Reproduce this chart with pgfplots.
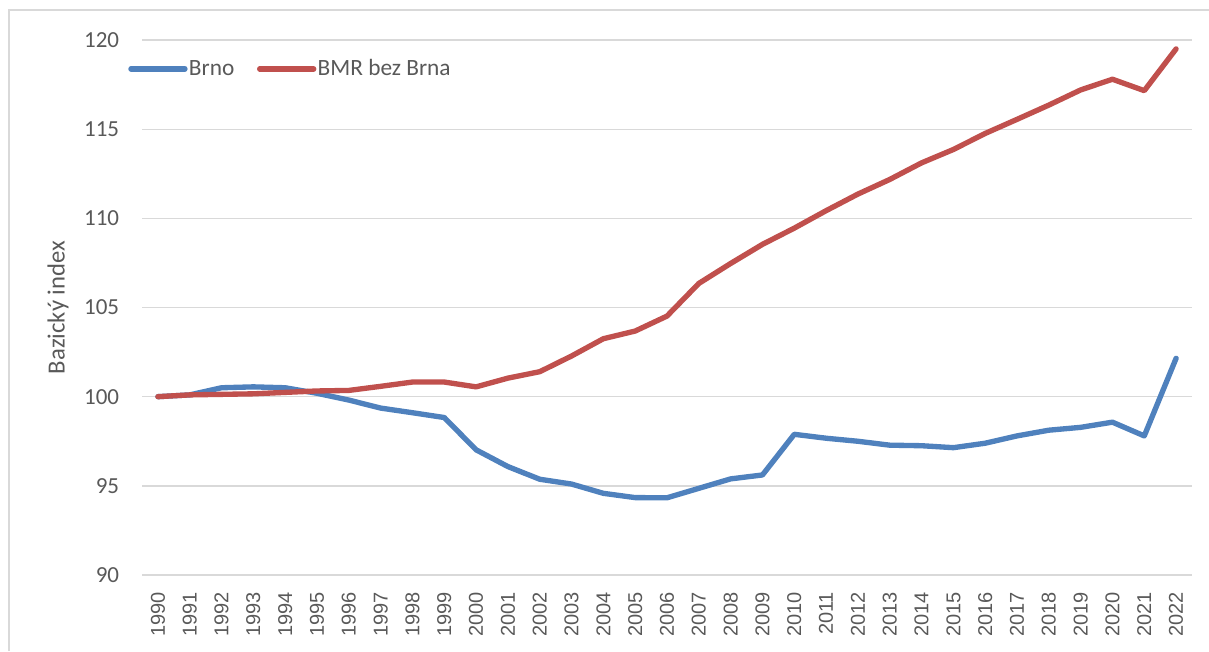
\documentclass[border=0pt]{standalone}
\usepackage{pgfplots}
\pgfplotsset{compat=1.18}
\usepackage{fontspec}
\setmainfont{Carlito}
\newfontfamily\arialfont{Liberation Sans}
\definecolor{cblue}{HTML}{4F81BD}
\definecolor{cred}{HTML}{C0504D}
\definecolor{cgrid}{HTML}{D9D9D9}
\definecolor{ctext}{HTML}{595959}
\pgfplotsset{legend image code/.code={\draw[#1] (0pt,0pt) -- (40.5pt,0pt);}}
\begin{document}
\begin{tikzpicture}
\useasboundingbox (0,0) rectangle (906.75pt,488.25pt);
\draw[cgrid, line width=1pt] (6.75pt,0pt) -- (6.75pt,480.75pt) -- (906.75pt,480.75pt);
\begin{axis}[
  at={(106.5pt,57pt)}, anchor=south west,
  scale only axis, width=787.5pt, height=401.25pt,
  xmin=1989.5, xmax=2022.5, ymin=90, ymax=120,
  xtick={1990,1991,...,2022}, ytick={90,95,...,120},
  /pgf/number format/1000 sep={},
  /pgf/number format/assume math mode=true,
  axis line style={draw=none}, major tick length=0pt,
  ymajorgrids, grid style={cgrid, line width=1pt},
  xticklabel style={font=\arialfont\fontsize{15}{15}\selectfont, text=ctext, rotate=90, anchor=east, inner sep=0pt},
  xticklabel shift=12.5pt,
  yticklabel style={font=\fontsize{17.25}{17}\selectfont, text=ctext, anchor=east, inner sep=0pt},
  yticklabel shift=17pt,
  ylabel={Bazický index},
  every axis y label/.style={at={(axis description cs:-0.08,0.5)}, rotate=90, anchor=center, font=\fontsize{18.5}{18}\selectfont, text=ctext},
  legend columns=2,
  legend style={at={(axis description cs:-0.0133,0.946)}, anchor=west, draw=none, fill=none, inner sep=0pt,
    font=\fontsize{17.5}{17}\selectfont, text=ctext,
    nodes={inner sep=1pt}, /tikz/every even column/.append style={column sep=16pt}},
  clip=false,
]
\addplot[cblue, line width=4pt, line cap=round, line join=round] coordinates {
(1990,100) (1991,100.1) (1992,100.5) (1993,100.55) (1994,100.5) (1995,100.19) (1996,99.81) (1997,99.36) (1998,99.1) (1999,98.83)
(2000,97.02) (2001,96.08) (2002,95.37) (2003,95.1) (2004,94.58) (2005,94.34) (2006,94.33) (2007,94.86) (2008,95.39) (2009,95.61)
(2010,97.89) (2011,97.67) (2012,97.5) (2013,97.28) (2014,97.25) (2015,97.14) (2016,97.39) (2017,97.8) (2018,98.12) (2019,98.28)
(2020,98.57) (2021,97.8) (2022,102.15)
};
\addlegendentry{Brno}
\addplot[cred, line width=4pt, line cap=round, line join=round] coordinates {
(1990,100) (1991,100.1) (1992,100.13) (1993,100.16) (1994,100.24) (1995,100.32) (1996,100.35) (1997,100.58) (1998,100.82) (1999,100.82)
(2000,100.55) (2001,101.04) (2002,101.4) (2003,102.28) (2004,103.25) (2005,103.68) (2006,104.52) (2007,106.35) (2008,107.47) (2009,108.54)
(2010,109.45) (2011,110.43) (2012,111.36) (2013,112.18) (2014,113.11) (2015,113.86) (2016,114.76) (2017,115.55) (2018,116.35) (2019,117.2)
(2020,117.8) (2021,117.16) (2022,119.5)
};
\addlegendentry{BMR bez Brna}
\end{axis}
\end{tikzpicture}
\end{document}
